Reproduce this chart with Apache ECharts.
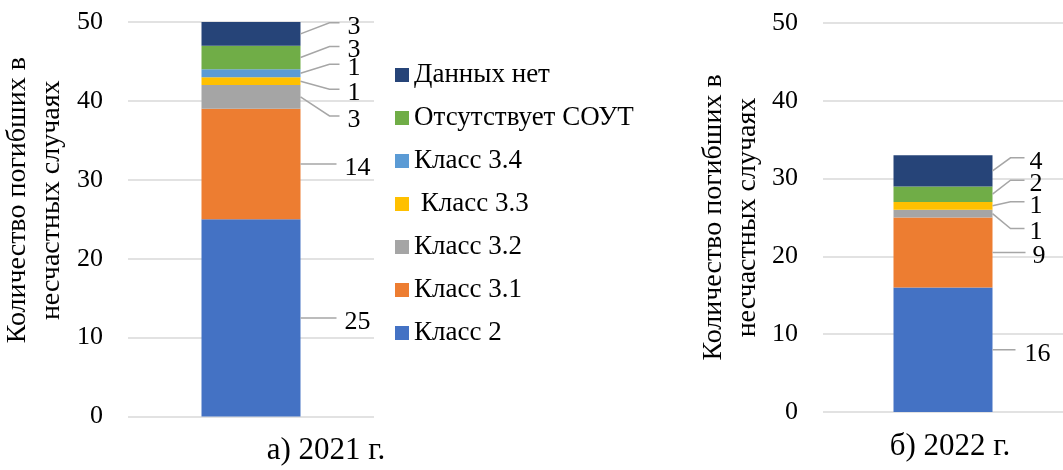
<!DOCTYPE html>
<html>
<head>
<meta charset="utf-8">
<script src="https://cdn.jsdelivr.net/npm/echarts@6/dist/echarts.min.js"></script>
<style>
html,body{margin:0;padding:0;background:#fff;}
#chart{width:1063px;height:470px;}
</style>
</head>
<body>
<div id="chart"></div>
<script>
// ---- data ----
const categories2021 = ['а) 2021 г.'];
const categories2022 = ['б) 2022 г.'];
const seriesNames = ['Класс 2', 'Класс 3.1', 'Класс 3.2', ' Класс 3.3', 'Класс 3.4', 'Отсутствует СОУТ', 'Данных нет'];
const values2021 = [25, 14, 3, 1, 1, 3, 3];
const values2022 = [16, 9, 1, 1, 0, 2, 4];
const legendOrder = ['Данных нет', 'Отсутствует СОУТ', 'Класс 3.4', ' Класс 3.3', 'Класс 3.2', 'Класс 3.1', 'Класс 2'];
const yAxisTitle = 'Количество погибших в\nнесчастных случаях';
const yMin = 0, yMax = 50, yInterval = 10;

// ---- styles ----
const colors = ['#4472C4', '#ED7D31', '#A5A5A5', '#FFC000', '#5B9BD5', '#70AD47', '#264478'];
const SERIF = 'Liberation Serif';
const BAR_W = 99;
// label leader layout (pixel offsets from the bar's right edge / segment middle)
const leader2021 = [
  {dy: 0, kx: 0, hx: 36, tx: 44},
  {dy: 0, kx: 0, hx: 36, tx: 44},
  {dy: 19, kx: 29, hx: 39, tx: 47},
  {dy: 8, kx: 29, hx: 39, tx: 47},
  {dy: -9, kx: 29, hx: 39, tx: 47},
  {dy: -11, kx: 29, hx: 39, tx: 47},
  {dy: -11, kx: 29, hx: 39, tx: 47}
];
const leader2022 = [
  {dy: 0, kx: 0, hx: 23, tx: 32},
  {dy: 0, kx: 0, hx: 33, tx: 40},
  {dy: 15, kx: 18, hx: 32, tx: 37},
  {dy: -4, kx: 18, hx: 32, tx: 37},
  {dy: 0, kx: 18, hx: 32, tx: 37},
  {dy: -14, kx: 18, hx: 32, tx: 37},
  {dy: -13, kx: 18, hx: 32, tx: 37}
];

function barSeries(values, axisIdx, stackName) {
  return seriesNames.map((n, i) => ({
    name: n,
    type: 'bar',
    stack: stackName,
    xAxisIndex: axisIdx,
    yAxisIndex: axisIdx,
    barWidth: BAR_W,
    itemStyle: {color: colors[i]},
    data: [values[i]]
  }));
}

function labelSeries(values, axisIdx, layout, id) {
  let acc = 0;
  const data = values.map(v => { const d = [0, acc, v]; acc += v; return d; });
  return {
    id: id,
    type: 'custom',
    xAxisIndex: axisIdx,
    yAxisIndex: axisIdx,
    silent: true,
    clip: false,
    z: 5,
    data: data,
    renderItem: function (params, api) {
      const base = api.value(1), val = api.value(2);
      if (!val) return null;
      const mid = api.coord([0, base + val / 2]);
      const L = layout[params.dataIndex];
      const xr = mid[0] + BAR_W / 2;
      const y0 = mid[1], y1 = mid[1] + L.dy;
      const pts = L.kx ? [[xr, y0], [xr + L.kx, y1], [xr + L.hx, y1]] : [[xr, y0], [xr + L.hx, y1]];
      return {
        type: 'group',
        children: [
          {type: 'polyline', shape: {points: pts}, style: {stroke: '#A6A6A6', lineWidth: 1.5, fill: null}},
          {type: 'text', x: xr + L.tx, y: y1 + 4,
           style: {text: String(val), font: '26px "' + SERIF + '"', fill: '#000', align: 'left', verticalAlign: 'middle'}}
        ]
      };
    }
  };
}

function yAxisCfg(gridIdx, padTop, gap) {
  return {
    type: 'value', gridIndex: gridIdx, min: yMin, max: yMax, interval: yInterval,
    axisLine: {show: false}, axisTick: {show: false},
    axisLabel: {fontFamily: SERIF, fontSize: 26, color: '#000', margin: 25},
    splitLine: {lineStyle: {color: '#D9D9D9', width: 1.5}},
    name: yAxisTitle, nameLocation: 'middle', nameRotate: 90, nameGap: gap,
    nameTextStyle: {fontFamily: SERIF, fontSize: 28, lineHeight: 34, color: '#000', padding: padTop}
  };
}

function xAxisCfg(gridIdx, cats, padLeft) {
  return {
    type: 'category', gridIndex: gridIdx, data: cats,
    axisLine: {show: false}, axisTick: {show: false},
    axisLabel: {fontFamily: SERIF, fontSize: 31, color: '#000', margin: 19, padding: [0, 0, 0, padLeft]}
  };
}

const chart = echarts.init(document.getElementById('chart'), null, {renderer: 'canvas'});
chart.setOption({
  animation: false,
  backgroundColor: '#fff',
  grid: [
    {left: 128, top: 22, width: 246, height: 394.5},
    {left: 823, top: 23, right: 0, height: 389}
  ],
  xAxis: [xAxisCfg(0, categories2021, 150), xAxisCfg(1, categories2022, 14)],
  yAxis: [yAxisCfg(0, [0, 0, 0, 38], 59), yAxisCfg(1, 0, 58)],
  legend: {
    orient: 'vertical', left: 390, top: 56,
    data: legendOrder,
    icon: 'rect', itemWidth: 14, itemHeight: 14, itemGap: 15,
    textStyle: {fontFamily: SERIF, fontSize: 27, lineHeight: 28, color: '#000'}
  },
  series: [
    ...barSeries(values2021, 0, 's2021'),
    ...barSeries(values2022, 1, 's2022'),
    labelSeries(values2021, 0, leader2021, 'lbl2021'),
    labelSeries(values2022, 1, leader2022, 'lbl2022')
  ]
});
</script>
</body>
</html>
